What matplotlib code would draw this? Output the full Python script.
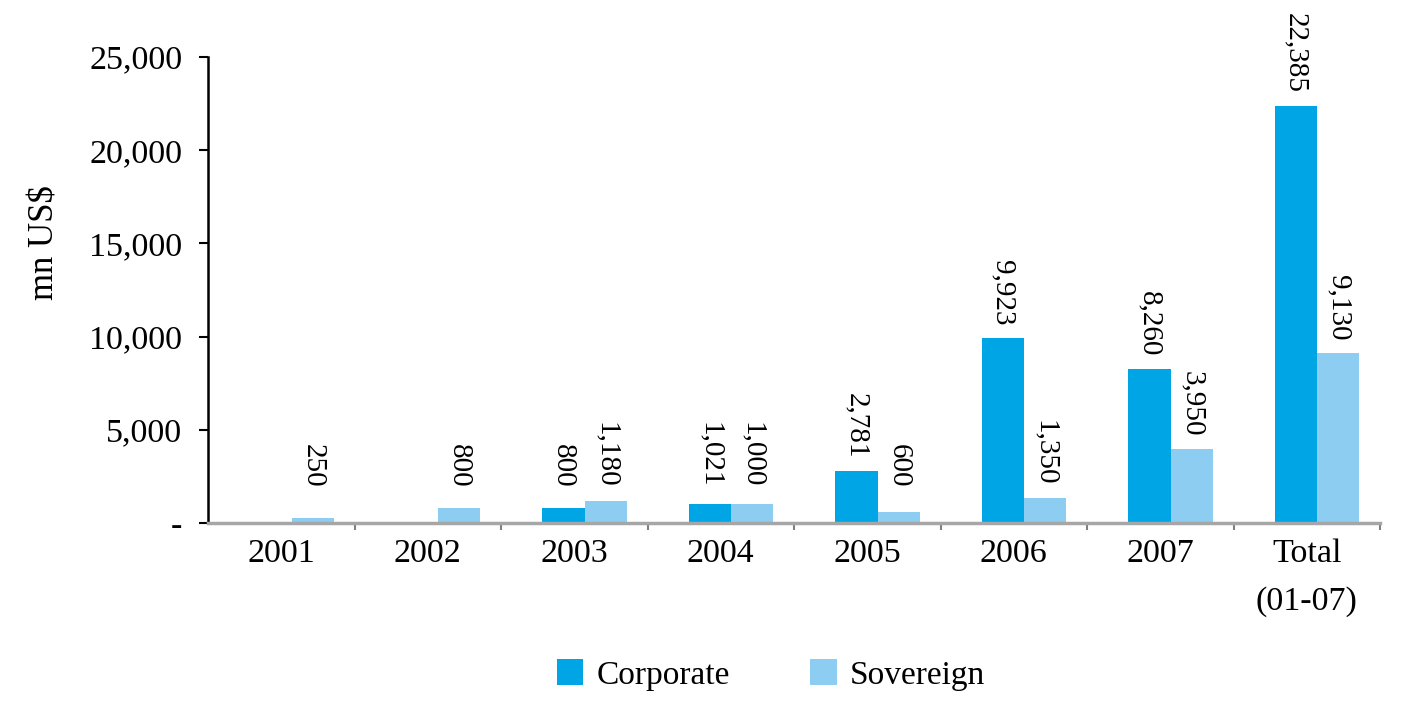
import matplotlib
matplotlib.use("Agg")
import matplotlib.pyplot as plt
import numpy as np

categories = ["2001", "2002", "2003", "2004", "2005", "2006", "2007", "Total\n(01-07)"]
corporate = [0, 0, 800, 1021, 2781, 9923, 8260, 22385]
sovereign = [250, 800, 1180, 1000, 600, 1350, 3950, 9130]
corp_labels = [None, None, "800", "1,021", "2,781", "9,923", "8,260", "22,385"]
sov_labels = ["250", "800", "1,180", "1,000", "600", "1,350", "3,950", "9,130"]
yticks = [0, 5000, 10000, 15000, 20000, 25000]
ytick_labels = ["-", "5,000", "10,000", "15,000", "20,000", "25,000"]

plt.rcParams['font.family'] = ['Liberation Serif', 'DejaVu Serif']

fig = plt.figure(figsize=(14.08, 7.10), dpi=100)
ax = fig.add_axes([208/1408, 1-523/710, (1380-208)/1408, (523-57)/710])

c_corp = "#00A5E6"
c_sov = "#8DCDF2"
x = np.arange(len(categories))
w = 0.29
off_c = -0.075
off_s = 0.215
ax.bar(x + off_c, corporate, width=w, color=c_corp, label="Corporate", zorder=2)
ax.bar(x + off_s, sovereign, width=w, color=c_sov, label="Sovereign", zorder=2)

def put(xp, v, txt):
    if txt is None:
        return
    ax.annotate(txt, xy=(xp, max(v, 1250)), xytext=(0, 9), textcoords="offset points",
                rotation=270, ha="center", va="bottom", fontsize=21, color="black")

for i in range(len(categories)):
    put(x[i] + off_c, corporate[i], corp_labels[i])
    put(x[i] + off_s, sovereign[i], sov_labels[i])

ax.set_xlim(-0.5, len(categories) - 0.5)
ax.set_ylim(0, 25000)
ax.set_yticks(yticks)
ax.set_yticklabels(ytick_labels, fontsize=24.5)
ax.tick_params(axis="y", direction="out", length=6.5, width=1.5, pad=12, color="black")

ax.set_xticks(x)
ax.set_xticklabels(categories, fontsize=24.5, linespacing=1.75)
ax.tick_params(axis="x", length=0, pad=11)
ax.set_xticks(np.arange(len(categories)) + 0.5, minor=True)
ax.tick_params(axis="x", which="minor", direction="out", length=5, width=1.5, color="#808080")

for s in ["top", "right"]:
    ax.spines[s].set_visible(False)
ax.spines["left"].set_color("black")
ax.spines["left"].set_linewidth(1.8)
ax.spines["bottom"].set_color("#A6A6A6")
ax.spines["bottom"].set_linewidth(2.5)
ax.spines["bottom"].set_zorder(3)

fig.text(45/1408, 1-243/710, "mn US$", rotation=90, ha="center", va="center", fontsize=25)

handles, labels = ax.get_legend_handles_labels()
fig.legend(handles, labels, loc="center", bbox_to_anchor=(771/1408, 1-675/710), ncol=2,
           frameon=False, fontsize=24, handlelength=0.8, handleheight=0.8,
           handletextpad=0.4, columnspacing=2.4)

fig.savefig("out.png", dpi=100)
